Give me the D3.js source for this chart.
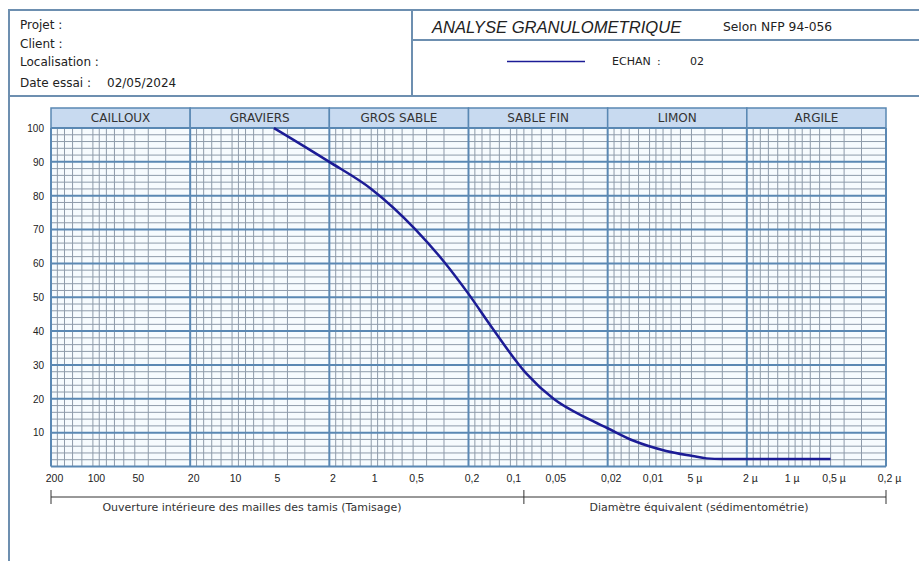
<!DOCTYPE html>
<html><head><meta charset="utf-8">
<script src="https://cdn.jsdelivr.net/npm/d3@7"></script>
<style>
html,body{margin:0;padding:0;background:#fff;}
svg{display:block;}
</style></head>
<body>
<svg id="c" width="919" height="561"></svg>
<script>
// ---- data ----
const categories = ["CAILLOUX","GRAVIERS","GROS SABLE","SABLE FIN","LIMON","ARGILE"];
const categoryBounds = [200, 20, 2, 0.2, 0.02, 0.002, 0.0002];
const minorFactors = [9, 8, 7, 6, 5, 4.5, 4, 3.5, 3, 2.5, 2, 1.5];
const xTickValues = [200,100,50,20,10,5,2,1,0.5,0.2,0.1,0.05,0.02,0.01,0.005,0.002,0.001,0.0005,0.0002];
const xTickLabels = ["200","100","50","20","10","5","2","1","0,5","0,2","0,1","0,05","0,02","0,01","5 µ","2 µ","1 µ","0,5 µ","0,2 µ"];
const yTickValues = [10,20,30,40,50,60,70,80,90,100];
const sizes   = [5, 2, 1, 0.48, 0.30, 0.2, 0.137, 0.077, 0.049, 0.028, 0.02, 0.013, 0.0076, 0.0049, 0.0039, 0.003, 0.0005];
const passing = [100, 90, 82, 70, 60.5, 51, 41.3, 27.5, 20, 14.2, 11.3, 7.6, 4.6, 3.1, 2.4, 2.2, 2.2];
const methodSplit = [200, 0.08, 0.0002];
const methodLabels = ["Ouverture intérieure des mailles des tamis (Tamisage)", "Diamètre équivalent (sédimentométrie)"];
const headerLines = ["Projet :", "Client :", "Localisation :", "Date essai :"];
const testDate = "02/05/2024";
const sampleName = "02";

// ---- layout ----
const svg = d3.select("#c");
const L = 51, R = 886, T = 128, B = 466.5;
const x = d3.scaleLog().domain([200, 0.0002]).range([L, R]);
const y = d3.scaleLinear().domain([0, 100]).range([B, T]);
const frame = "#6d8fb0", major = "#5a88b3", minor = "#8e9baa";
const sans = "'DejaVu Sans', Verdana, sans-serif";
const arial = "'Liberation Sans', Arial, sans-serif";

// header frame
svg.append("rect").attr("x",9).attr("y",10).attr("width",920).attr("height",86)
  .attr("fill","#fff").attr("stroke",frame).attr("stroke-width",2);
svg.append("line").attr("x1",9).attr("x2",9).attr("y1",96).attr("y2",561).attr("stroke",frame).attr("stroke-width",2);
svg.append("line").attr("x1",412).attr("x2",412).attr("y1",10).attr("y2",96).attr("stroke",frame).attr("stroke-width",2);
svg.append("line").attr("x1",412).attr("x2",919).attr("y1",40).attr("y2",40).attr("stroke",frame).attr("stroke-width",2);

const hb = [29, 47.5, 66, 86.5];
headerLines.forEach((t,i)=>{
  svg.append("text").attr("x",20).attr("y",hb[i]).attr("font-family",sans).attr("font-size",12).attr("fill","#222").text(t);
});
svg.append("text").attr("x",107).attr("y",hb[3]).attr("font-family",sans).attr("font-size",12).attr("fill","#222").text(testDate);
svg.append("text").attr("x",432).attr("y",33).attr("font-family",arial).attr("font-style","italic").attr("font-size",16.6).attr("fill","#222").text("ANALYSE GRANULOMETRIQUE");
svg.append("text").attr("x",723).attr("y",31).attr("font-family",sans).attr("font-size",12.3).attr("fill","#222").text("Selon NFP 94-056");
svg.append("line").attr("x1",507).attr("x2",585).attr("y1",61.5).attr("y2",61.5).attr("stroke","#1c1c96").attr("stroke-width",1.5);
svg.append("text").attr("x",612).attr("y",65).attr("font-family",sans).attr("font-size",11).attr("fill","#222").text("ECHAN");
svg.append("text").attr("x",657).attr("y",65).attr("font-family",sans).attr("font-size",11).attr("fill","#222").text(":");
svg.append("text").attr("x",690).attr("y",65).attr("font-family",sans).attr("font-size",11).attr("fill","#222").text(sampleName);

// plot background
svg.append("rect").attr("x",L).attr("y",T).attr("width",R-L).attr("height",B-T).attr("fill","#f6fbfe");

// category band
const band = svg.append("g");
categories.forEach((c,i)=>{
  const x0 = x(categoryBounds[i]), x1 = x(categoryBounds[i+1]);
  band.append("rect").attr("x",x0).attr("y",108).attr("width",x1-x0).attr("height",T-108)
    .attr("fill","#c8daf0").attr("stroke",major).attr("stroke-width",1.5);
  band.append("text").attr("x",(x0+x1)/2).attr("y",121.5).attr("text-anchor","middle")
    .attr("font-family",sans).attr("font-size",12).attr("fill","#333").text(c);
});

// minor grid
const g = svg.append("g");
const minorX = [];
for (let i=0;i<categoryBounds.length-1;i++){
  const r = categoryBounds[i+1];
  minorFactors.forEach(f=>minorX.push(r*f));
}
g.selectAll(".mv").data(minorX).join("line")
  .attr("x1",d=>x(d)).attr("x2",d=>x(d)).attr("y1",T).attr("y2",B)
  .attr("stroke",minor).attr("stroke-width",1);
const minorY = d3.range(2,100,2).filter(v=>v%10!==0);
g.selectAll(".mh").data(minorY).join("line")
  .attr("x1",L).attr("x2",R).attr("y1",d=>y(d)).attr("y2",d=>y(d))
  .attr("stroke",minor).attr("stroke-width",1);
// major grid
g.selectAll(".Mh").data(d3.range(0,101,10)).join("line")
  .attr("x1",L).attr("x2",R).attr("y1",d=>y(d)).attr("y2",d=>y(d))
  .attr("stroke",major).attr("stroke-width",2);
g.selectAll(".Mv").data(categoryBounds).join("line")
  .attr("x1",d=>x(d)).attr("x2",d=>x(d)).attr("y1",T).attr("y2",B)
  .attr("stroke",major).attr("stroke-width",2);

// axes
const yAx = svg.append("g").attr("transform",`translate(${L-7},0)`)
  .call(d3.axisLeft(y).tickValues(yTickValues).tickSize(0).tickPadding(0));
yAx.select(".domain").remove();
yAx.selectAll("text").attr("font-family",arial).attr("font-size",10).attr("fill","#222").attr("dy","0.33em");

const xAx = svg.append("g").attr("transform",`translate(3,${B+8})`)
  .call(d3.axisBottom(x).tickValues(xTickValues).tickFormat((d,i)=>xTickLabels[i]).tickSize(0).tickPadding(0));
xAx.select(".domain").remove();
xAx.selectAll("text").attr("font-family",arial).attr("font-size",10.5).attr("fill","#222");

// method range line
const my = 497;
svg.append("line").attr("x1",x(methodSplit[0])).attr("x2",x(methodSplit[2])).attr("y1",my).attr("y2",my).attr("stroke","#333").attr("stroke-width",1);
methodSplit.forEach(v=>{
  svg.append("line").attr("x1",x(v)).attr("x2",x(v)).attr("y1",my-7).attr("y2",my+7).attr("stroke","#333").attr("stroke-width",1);
});
methodLabels.forEach((t,i)=>{
  svg.append("text").attr("x",i===0?252:699).attr("y",511).attr("text-anchor","middle")
    .attr("font-family",sans).attr("font-size",11).attr("fill","#333").text(t);
});

// curve
const pts = sizes.map((s,i)=>[s,passing[i]]);
svg.append("path").datum(pts)
  .attr("d", d3.line().x(d=>x(d[0])).y(d=>y(d[1])).curve(d3.curveMonotoneX))
  .attr("fill","none").attr("stroke","#1c1c96").attr("stroke-width",2.5);
</script>
</body></html>
